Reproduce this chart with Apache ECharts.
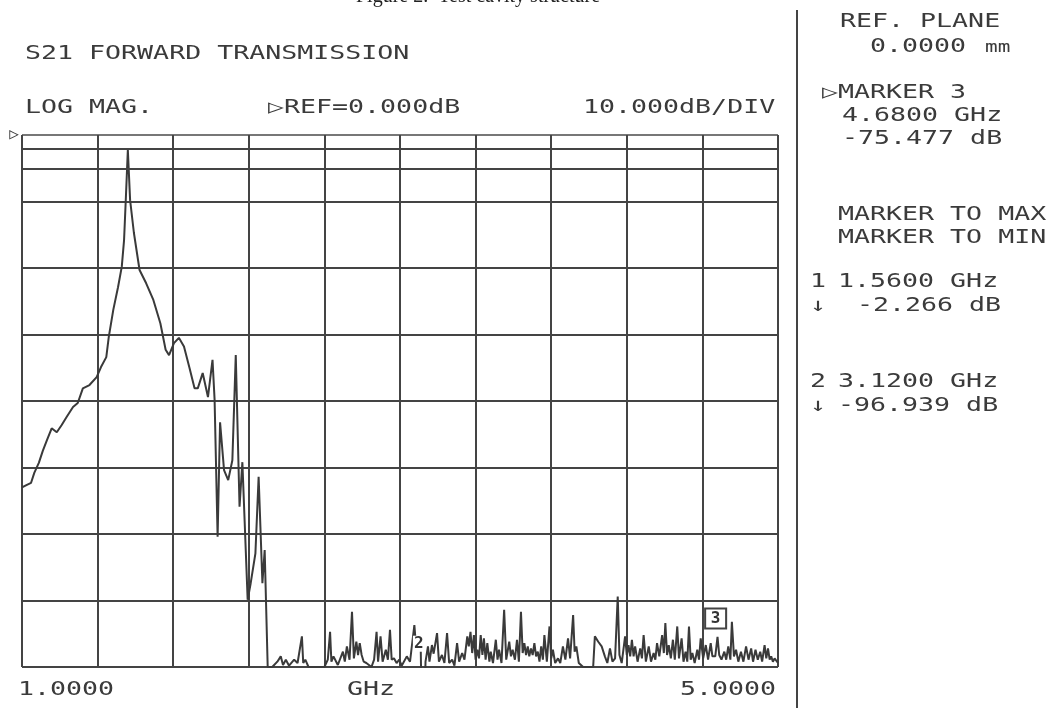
<!DOCTYPE html>
<html><head><meta charset="utf-8">
<script src="https://cdn.jsdelivr.net/npm/echarts@6/dist/echarts.min.js"></script>
<style>html,body{margin:0;padding:0;background:#fff}#c{width:1050px;height:708px}</style>
</head><body><div id="c"></div>
<script>
// ---- data ----
const freqGHz = [1.000,1.026,1.048,1.065,1.089,1.110,1.132,1.157,1.184,1.210,1.236,1.270,1.295,1.322,1.357,1.395,1.418,1.446,1.459,1.483,1.508,1.528,1.540,1.549,1.560,1.566,1.572,1.592,1.622,1.657,1.695,1.732,1.760,1.778,1.804,1.830,1.857,1.885,1.913,1.930,1.956,1.984,2.008,2.019,2.035,2.048,2.069,2.091,2.113,2.131,2.151,2.166,2.194,2.210,2.235,2.252,2.272,2.284,2.300,
2.324,2.351,2.369,2.381,2.396,2.413,2.440,2.458,2.481,2.488,2.499,2.516,2.600,2.618,2.630,2.637,2.648,2.671,2.698,2.708,2.719,2.733,2.746,2.756,2.769,2.778,2.787,2.797,2.808,2.822,2.849,2.863,2.876,2.884,2.897,2.908,2.925,2.936,2.947,2.956,2.968,2.982,2.996,3.009,3.036,3.053,3.076,3.085,3.098,3.110,3.120,3.135,3.148,3.156,3.169,3.178,3.196,3.206,3.222,3.235,3.249,3.260,3.276,3.288,3.302,3.313,3.329,3.341,3.356,3.364,3.373,3.382,3.391,3.400,3.409,3.418,3.427,3.436,3.444,3.453,3.462,3.473,3.480,3.492,3.507,3.516,3.524,3.537,3.551,3.562,3.578,3.587,3.596,3.608,3.619,3.629,3.640,3.649,3.658,3.667,3.676,3.684,3.693,3.702,3.711,3.720,3.729,3.738,3.747,3.756,3.764,3.777,3.791,3.800,3.809,3.821,3.836,3.848,3.862,3.875,3.889,3.900,3.916,3.924,3.933,3.946,3.969,4.022,4.031,4.049,4.067,4.084,4.097,4.111,4.124,4.138,4.152,4.161,4.173,4.191,4.200,4.209,4.218,4.227,4.236,4.244,4.257,4.271,4.280,4.289,4.301,4.316,4.328,4.342,4.351,4.360,4.372,4.387,4.396,4.404,4.413,4.422,4.433,4.444,4.454,4.467,4.476,4.490,4.500,4.511,4.520,4.529,4.538,4.547,4.559,4.573,4.582,4.591,4.604,4.618,4.630,4.644,4.653,4.668,4.680,4.689,4.701,4.716,4.726,4.737,4.748,4.756,4.767,4.778,4.790,4.804,4.817,4.831,4.844,4.858,4.868,4.881,4.893,4.906,4.916,4.929,4.938,4.947,4.956,4.964,4.973,4.982,5.000];
const s21dB = [-53.0,-52.6,-52.3,-50.8,-49.3,-47.5,-45.9,-44.1,-44.7,-43.6,-42.4,-40.9,-40.3,-38.1,-37.6,-36.4,-34.9,-33.4,-30.4,-26.3,-22.9,-19.8,-15.8,-9.8,-2.27,-2.3,-9.8,-14.7,-20.3,-22.3,-24.8,-28.3,-32.3,-33.1,-31.3,-30.5,-31.8,-34.9,-38.1,-38.1,-35.8,-39.4,-33.8,-39.8,-60.4,-43.2,-50.4,-51.9,-48.9,-33.1,-55.9,-49.2,-69.9,-67.4,-62.9,-51.4,-67.4,-62.4,-80,
-80,-79.2,-78.4,-79.7,-78.9,-79.8,-78.9,-79.4,-75.4,-79.4,-78.9,-80,-80,-78.9,-74.7,-79.2,-78.4,-79.7,-77.7,-79.2,-76.9,-78.9,-71.7,-78.7,-76.2,-78.2,-76.4,-78.2,-79.2,-79.4,-80,-78.9,-74.7,-79.2,-75.4,-79.2,-77.4,-78.9,-74.4,-78.9,-78.7,-79.4,-78.9,-79.8,-78.4,-79.2,-73.7,-76.9,-75.4,-77.7,-96.9,-79.2,-76.9,-79.2,-76.7,-78.0,-74.9,-79.2,-78.2,-79.4,-74.9,-79.4,-78.9,-79.8,-76.4,-79.2,-77.9,-78.9,-75.4,-76.9,-74.7,-77.9,-75.2,-78.9,-77.4,-78.7,-75.2,-78.2,-75.7,-78.9,-76.4,-79.2,-77.7,-79.4,-75.9,-78.9,-77.4,-79.4,-71.4,-78.9,-76.2,-78.4,-77.4,-78.9,-75.9,-79.2,-71.7,-77.9,-76.4,-78.2,-76.9,-78.4,-77.2,-78.2,-76.4,-78.4,-77.7,-79.2,-76.9,-78.9,-75.2,-79.2,-73.9,-78.7,-77.4,-79.4,-78.7,-79.4,-76.9,-78.9,-75.7,-78.7,-72.2,-77.7,-76.9,-79.4,-80,-80,-75.4,-76.2,-76.9,-78.4,-79.4,-77.2,-79.2,-78.7,-69.4,-78.2,-79.4,-75.4,-78.2,-76.7,-78.4,-75.9,-78.4,-76.9,-79.2,-77.2,-78.7,-75.2,-79.2,-76.9,-79.2,-77.9,-78.9,-76.4,-78.4,-75.2,-77.9,-73.4,-78.2,-76.7,-78.7,-75.9,-78.9,-73.9,-78.7,-75.7,-79.2,-77.7,-79.2,-73.9,-78.9,-77.9,-79.4,-77.4,-78.9,-75.7,-78.7,-76.7,-78.9,-76.4,-78.4,-78.4,-75.48,-78.2,-78.9,-77.7,-78.9,-76.9,-78.9,-73.2,-78.4,-77.4,-79.2,-77.7,-79.2,-76.9,-78.9,-77.2,-79.2,-77.4,-78.9,-77.7,-79.2,-76.7,-78.7,-77.2,-78.9,-78.4,-79.2,-78.7,-79.4];
const extraRefLines = [-2.1, -5.1];
const markerLabels = [{name:'2', f:3.10, db:-76.5}, {name:'3', f:4.67, db:-72.7}];

const INK = '#3b3b3b';
const MONO = '"DejaVu Sans Mono", monospace';
function txt(s, x, y, size, sx){
  return {type:'text', x:x, y:y, scaleX: sx||1.4, silent:true,
    style:{text:s, x:0, y:0, font:'normal '+(size||19)+'px '+MONO, fill:INK, textAlign:'left', textVerticalAlign:'middle'}};
}
const chart = echarts.init(document.getElementById('c'), null, {renderer:'canvas'});
const lineCols = ['#444','#444','#444','#444','#444','#444','#444','#444','#777'];
chart.setOption({
  backgroundColor:'#fff',
  animation:false,
  grid:{left:22, top:135, width:756, height:532, containLabel:false},
  xAxis:{type:'value', min:1, max:5, interval:0.4,
    axisLine:{show:false}, axisTick:{show:false}, axisLabel:{show:false},
    splitLine:{show:true, lineStyle:{color:'#444', width:2}}},
  yAxis:{type:'value', min:-80, max:0, interval:10,
    axisLine:{show:false}, axisTick:{show:false},
    axisLabel:{show:true, margin:3, color:INK, fontSize:16, fontFamily:MONO, formatter:v=> v===0?'▷':''},
    splitLine:{show:true, lineStyle:{color:lineCols, width:2}}},
  series:[{
    type:'line', data: freqGHz.map((f,i)=>[f, s21dB[i]]), showSymbol:false, clip:true,
    lineStyle:{color:'#3a3a3a', width:2}, silent:true,
    markLine:{silent:true, symbol:'none', label:{show:false},
      lineStyle:{color:'#444', width:2, type:'solid'},
      data: extraRefLines.map(v=>({yAxis:v}))},
    markPoint:{silent:true, symbol:'rect', symbolSize:[21,20],
      data: markerLabels.map(m=>({name:m.name, coord:[m.f, m.db],
        symbolSize: m.name==='3'?[21,20]:[12,16],
        itemStyle: m.name==='3'
          ? {color:'#ffffff', borderColor:'#444', borderWidth:2}
          : {color:'#ffffff', borderWidth:0, opacity:1},
        label:{show:true, position:'inside', formatter:m.name, color:'#333', fontWeight:'bold', fontFamily:MONO, fontSize:16}}))}
  }],
  graphic:[
    {type:'text', x:356, y:-3, silent:true, style:{text:'Figure 2.  Test cavity structure', x:0, y:0,
      font:'normal 20px "Liberation Serif", serif', fill:'#222', textAlign:'left', textVerticalAlign:'middle'}},
    {type:'line', silent:true, shape:{x1:797, y1:10, x2:797, y2:708}, style:{stroke:'#444', lineWidth:2}},
    txt('S21 FORWARD TRANSMISSION', 25, 54),
    txt('LOG MAG.', 25, 108),
    txt('▷REF=0.000dB', 268, 108),
    txt('10.000dB/DIV', 583, 108),
    txt('1.0000', 18, 690),
    txt('GHz', 347, 690),
    txt('5.0000', 680, 690),
    txt('REF. PLANE', 840, 22),
    txt('0.0000', 870, 47),
    txt('mm', 985, 48, 15, 1.4),
    txt('▷MARKER 3', 822, 93),
    txt('4.6800 GHz', 842, 116),
    txt('-75.477 dB', 842, 139),
    txt('MARKER TO MAX', 838, 215),
    txt('MARKER TO MIN', 838, 238),
    txt('1', 810, 282),
    txt('1.5600 GHz', 838, 282),
    txt('↓', 810, 306),
    txt('-2.266 dB', 857, 306),
    txt('2', 810, 382),
    txt('3.1200 GHz', 838, 382),
    txt('↓', 810, 406),
    txt('-96.939 dB', 838, 406)
  ]
});
</script></body></html>
